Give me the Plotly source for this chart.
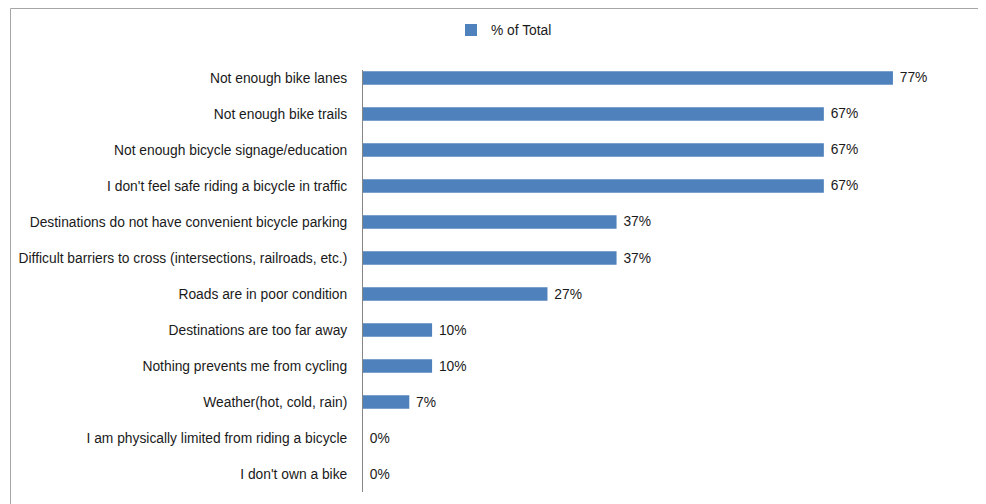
import plotly.graph_objects as go

categories = [
    "Not enough bike lanes",
    "Not enough bike trails",
    "Not enough bicycle signage/education",
    "I don't feel safe riding a bicycle in traffic",
    "Destinations do not have convenient bicycle parking",
    "Difficult barriers to cross (intersections, railroads, etc.)",
    "Roads are in poor condition",
    "Destinations are too far away",
    "Nothing prevents me from cycling",
    "Weather(hot, cold, rain)",
    "I am physically limited from riding a bicycle",
    "I don't own a bike",
]
values = [0.767, 0.667, 0.667, 0.667, 0.367, 0.367, 0.267, 0.10, 0.10, 0.067, 0.0, 0.0]
series_name = "% of Total"

# page body has an 8px margin, so the figure is drawn at (8, 8)
W, H = 978, 496
ML, MR, MT, MB = 355, 15, 62, 12
FONT = "Liberation Sans"
FS = 13.8

fig = go.Figure(go.Bar(
    y=categories, x=values, orientation="h", name=series_name,
    marker=dict(color="#4F81BD", line=dict(width=0)),
    width=0.37,
    text=[f"\u00a0{round(v*100)}%" for v in values],
    textposition="outside", cliponaxis=False, constraintext="none",
    textfont=dict(family=FONT, size=FS, color="#1a1a1a"),
    showlegend=True,
))

pw = W - ML - MR
ph = H - MT - MB
def px_x(p):
    return (p - ML) / pw
def px_y(p):
    return 1 - (p - MT) / ph

fig.update_layout(
    width=W, height=H,
    margin=dict(l=ML, r=MR, t=MT, b=MB),
    paper_bgcolor="white", plot_bgcolor="white",
    font=dict(family=FONT, size=FS, color="#1a1a1a"),
    legend=dict(orientation="h", xref="container", yref="container",
                x=443 / W, xanchor="left", y=1 - 22 / H, yanchor="middle",
                font=dict(size=FS), itemwidth=30),
    xaxis=dict(range=[0, 0.88], visible=False, fixedrange=True),
    yaxis=dict(categoryorder="array", categoryarray=categories,
               range=[11.5, -0.222], showline=True, linecolor="#868686",
               linewidth=1, ticks="", showgrid=False, ticklabelstandoff=12,
               tickfont=dict(size=FS)),
    shapes=[
        dict(type="line", xref="paper", yref="paper",
             x0=px_x(2.5), x1=px_x(W), y0=px_y(0.5), y1=px_y(0.5),
             line=dict(color="#a6a6a6", width=1)),
        dict(type="line", xref="paper", yref="paper",
             x0=px_x(2.5), x1=px_x(2.5), y0=px_y(0.5), y1=px_y(H),
             line=dict(color="#a6a6a6", width=1)),
    ],
)

fig.write_html("out.html")
